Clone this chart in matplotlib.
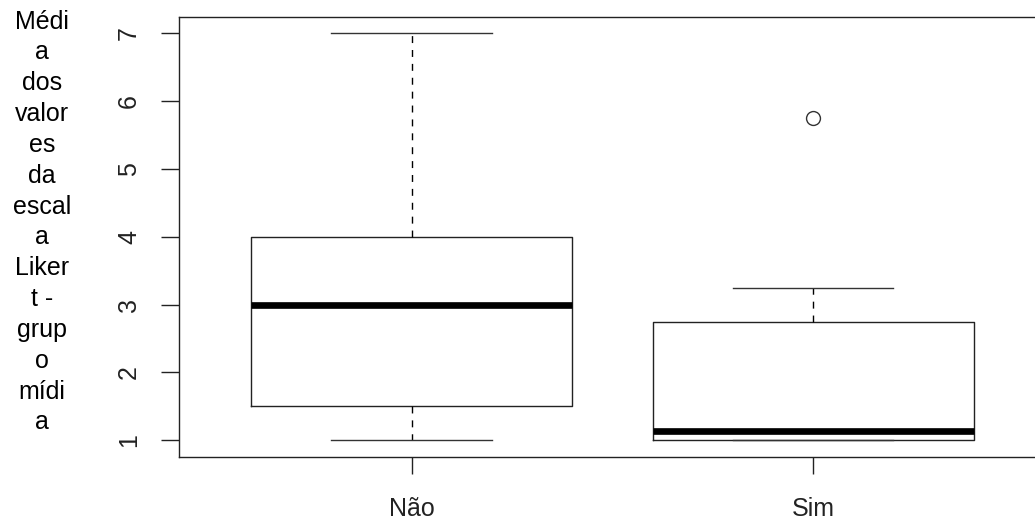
import matplotlib.pyplot as plt

plt.rcParams['font.family'] = ['Liberation Sans', 'DejaVu Sans']

groups = ['Não', 'Sim']
mins = [1.0, 1.0]
q1s = [1.5, 1.0]
medians = [3.0, 1.14]
q3s = [4.0, 2.75]
maxs = [7.0, 3.25]
outliers = [[], [5.75]]
y_ticks = [1, 2, 3, 4, 5, 6, 7]
y_label = "Médi\na\ndos\nvalor\nes\nda\nescal\na\nLiker\nt -\ngrup\no\nmídi\na"

stats = []
for i in range(len(groups)):
    stats.append({'label': groups[i], 'whislo': mins[i], 'q1': q1s[i], 'med': medians[i],
                  'q3': q3s[i], 'whishi': maxs[i], 'fliers': outliers[i]})

fig = plt.figure(figsize=(10.35, 5.2), dpi=100)
# the right border of the R plot is cut off in the original, so the axes run past the figure edge
ax = fig.add_axes([178.7 / 1035, 1 - 456.7 / 520, (1046 - 178.7) / 1035, (456.7 - 16.5) / 520])

ax.bxp(stats, positions=[1, 2], widths=0.8, capwidths=0.4,
       boxprops=dict(color='#222222', linewidth=1.0),
       medianprops=dict(color='black', linewidth=4.8, solid_capstyle='butt'),
       whiskerprops=dict(color='black', linewidth=1.0, linestyle=(0, (5, 5))),
       capprops=dict(color='#333333', linewidth=1.0),
       flierprops=dict(marker='o', markerfacecolor='none', markeredgecolor='#333333',
                       markersize=10, markeredgewidth=1.0))

ax.set_xlim(0.42, 2.58)
ax.set_ylim(0.76, 7.24)
ax.set_yticks(y_ticks)
ax.set_yticklabels([str(t) for t in y_ticks], rotation=90, va='center', fontsize=18)
ax.set_xticks([1, 2])
ax.set_xticklabels(groups, fontsize=18)
ax.tick_params(axis='y', length=13, width=1, pad=14, colors='#222222')
ax.tick_params(axis='x', length=12, width=1, pad=17, colors='#222222')
for s in ax.spines.values():
    s.set_linewidth(1.0)
    s.set_color('#222222')

fig.text(42 / 1035, 1 - 222 / 520, y_label, ha='center', va='center',
         multialignment='center', fontsize=18, linespacing=1.36, color='black')

fig.savefig('out.png', dpi=100)
